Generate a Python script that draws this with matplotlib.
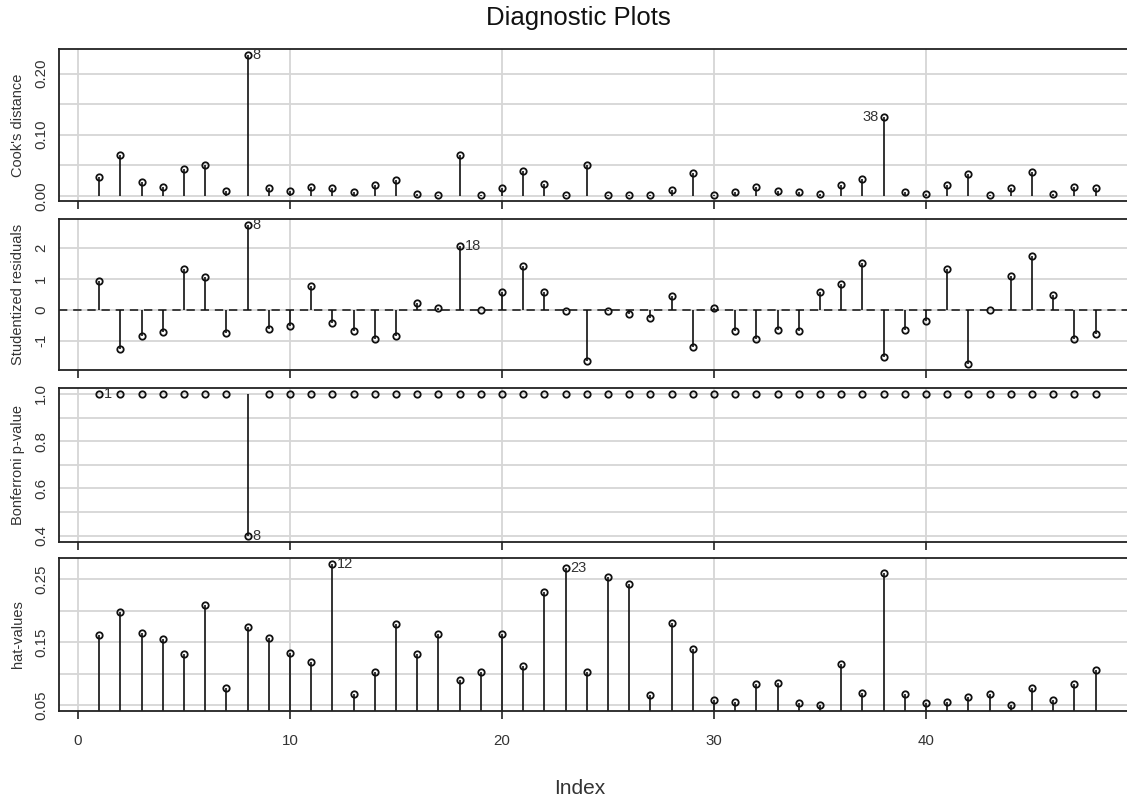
import numpy as np
import matplotlib
matplotlib.use("Agg")
import matplotlib.pyplot as plt
from matplotlib.ticker import FixedLocator, FixedFormatter

plt.rcParams['font.family'] = ['Liberation Sans', 'DejaVu Sans']

# Observation index
index = np.arange(1, 49)

cooks_d = [0.030, 0.066, 0.023, 0.015, 0.044, 0.050, 0.008, 0.2305, 0.0125, 0.008,
           0.015, 0.0125, 0.0055, 0.017, 0.026, 0.003, 0.001, 0.066, 0.001, 0.0125,
           0.041, 0.019, 0.001, 0.050, 0.001, 0.001, 0.001, 0.010, 0.037, 0.001,
           0.0055, 0.015, 0.008, 0.0055, 0.003, 0.017, 0.028, 0.129, 0.0055, 0.003,
           0.017, 0.035, 0.001, 0.0125, 0.039, 0.003, 0.015, 0.0125]

stud_resid = [0.93, -1.28, -0.84, -0.71, 1.34, 1.07, -0.74, 2.77, -0.61, -0.51,
              0.76, -0.44, -0.70, -0.96, -0.84, 0.24, 0.05, 2.09, 0.00, 0.59,
              1.43, 0.58, -0.03, -1.67, -0.03, -0.13, -0.26, 0.45, -1.19, 0.05,
              -0.70, -0.96, -0.65, -0.70, 0.58, 0.85, 1.51, -1.54, -0.65, -0.35,
              1.34, -1.77, 0.00, 1.11, 1.74, 0.49, -0.96, -0.78]

bonf_p = [1.0] * 48
bonf_p[7] = 0.398

hat_vals = [0.161, 0.198, 0.165, 0.155, 0.131, 0.209, 0.077, 0.174, 0.157, 0.133,
            0.118, 0.274, 0.068, 0.103, 0.179, 0.131, 0.163, 0.090, 0.103, 0.163,
            0.112, 0.229, 0.267, 0.103, 0.253, 0.242, 0.066, 0.181, 0.140, 0.058,
            0.055, 0.084, 0.086, 0.053, 0.0505, 0.116, 0.070, 0.259, 0.068, 0.053,
            0.055, 0.064, 0.068, 0.0505, 0.077, 0.058, 0.084, 0.106]

panel_names = ["Cook's distance", "Studentized residuals", "Bonferroni p-value", "hat-values"]
panel_values = [cooks_d, stud_resid, bonf_p, hat_vals]
stem_base = [0.0, 0.0, 1.0, 0.0]

# labelled points per panel: (observation number, side)
point_labels = [[(8, 'right'), (38, 'left')],
                [(8, 'right'), (18, 'right')],
                [(1, 'right'), (8, 'right')],
                [(12, 'right'), (23, 'right')]]

y_labelled = [[0.0, 0.1, 0.2], [-1, 0, 1, 2], [0.4, 0.6, 0.8, 1.0], [0.05, 0.15, 0.25]]
y_label_text = [["0.00", "0.10", "0.20"], ["-1", "0", "1", "2"],
                ["0.4", "0.6", "0.8", "1.0"], ["0.05", "0.15", "0.25"]]
y_grid = [[0.0, 0.05, 0.10, 0.15, 0.20], [-1, 0, 1, 2],
          [0.4, 0.5, 0.6, 0.7, 0.8, 0.9, 1.0], [0.05, 0.10, 0.15, 0.20, 0.25]]
x_ticks = [0, 10, 20, 30, 40]

W, H = 1127, 802
fig = plt.figure(figsize=(W / 100, H / 100), dpi=100)

left_px, right_px = 59.3, 1135.5
panel_px = [(49.3, 200.7), (219.0, 370.0), (388.3, 541.7), (558.3, 710.7)]

def expanded(lo, hi, frac=0.04):
    d = (hi - lo) * frac
    return lo - d, hi + d

xlim = expanded(index.min(), index.max())
text_color = '#333333'

for k, (top, bot) in enumerate(panel_px):
    ax = fig.add_axes([left_px / W, 1 - bot / H, (right_px - left_px) / W, (bot - top) / H])
    vals = np.asarray(panel_values[k])
    ax.set_xlim(*xlim)
    ax.set_ylim(*expanded(vals.min(), vals.max()))

    # grid
    for gx in x_ticks:
        ax.axvline(gx, color='#d6d6d6', lw=1.3, zorder=0)
    for gy in y_grid[k]:
        ax.axhline(gy, color='#d6d6d6', lw=1.3, zorder=0)

    if k == 1:
        ax.axhline(0, color='#222222', lw=1.2, ls=(0, (5, 3.5)), zorder=1)

    ax.vlines(index, stem_base[k], vals, color='#111111', lw=1.2, zorder=2)
    ax.plot(index, vals, 'o', ms=4.6, mfc='none', mec='#111111', mew=1.3, zorder=3)

    for obs, side in point_labels[k]:
        off = 3.5 if side == 'right' else -3.5
        ax.annotate(str(obs), (obs, vals[obs - 1]), xytext=(off, 0),
                    textcoords='offset points', ha='left' if side == 'right' else 'right',
                    va='center', fontsize=10.5, color=text_color, zorder=4)

    ax.yaxis.set_major_locator(FixedLocator(y_labelled[k]))
    ax.yaxis.set_major_formatter(FixedFormatter(y_label_text[k]))
    ax.tick_params(axis='y', length=0, pad=8, labelsize=10.8, labelcolor=text_color)
    for lab in ax.get_yticklabels():
        lab.set_rotation(90)
        lab.set_va('center')

    ax.xaxis.set_major_locator(FixedLocator(x_ticks))
    ax.tick_params(axis='x', length=6, width=1.2, direction='out', color='#222222',
                   pad=11, labelsize=10.8, labelcolor=text_color,
                   labelbottom=(k == 3))

    for sp in ax.spines.values():
        sp.set_color('#222222')
        sp.set_linewidth(1.3)

    fig.text(18 / W, 1 - (top + bot) / 2 / H, panel_names[k], rotation=90,
             ha='center', va='center', fontsize=10.5, color=text_color)

fig.text(578 / W, 1 - 18 / H, "Diagnostic Plots", ha='center', va='center',
         fontsize=18.5, color='#111111')
fig.text(580 / W, 1 - 788 / H, "Index", ha='center', va='center',
         fontsize=15, color=text_color)

fig.savefig("out.png", dpi=100)
